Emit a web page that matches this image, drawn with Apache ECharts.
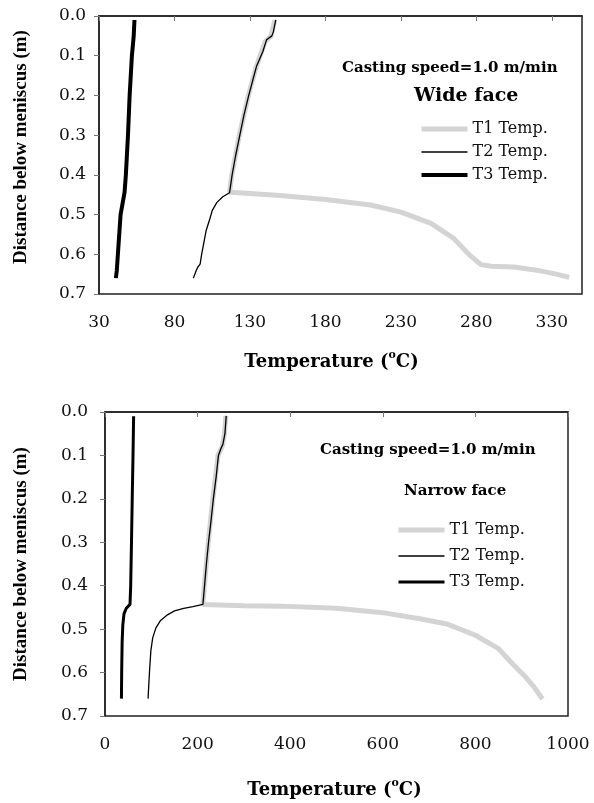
<!DOCTYPE html>
<html>
<head>
<meta charset="utf-8">
<script src="https://cdn.jsdelivr.net/npm/echarts@6/dist/echarts.min.js"></script>
<style>
  html, body { margin: 0; padding: 0; background: #fff; }
  #main { width: 594px; height: 803px; }
</style>
</head>
<body>
<div id="main"></div>
<script>
// tick labels
const depthTicks = [0.0, 0.1, 0.2, 0.3, 0.4, 0.5, 0.6, 0.7];
const wideTempTicks = [30, 80, 130, 180, 230, 280, 330];
const wideTempMax = 350;
const narrowTempTicks = [0, 200, 400, 600, 800, 1000];

const seriesNames = ['T1 Temp.', 'T2 Temp.', 'T3 Temp.'];

// wide face (top chart)
const wideT1Temp = [146.5, 144, 140, 134, 129, 123, 118, 116.5, 130, 150, 180, 210, 230, 250, 265, 275, 283, 290, 305, 320, 333, 341.5];
const wideT1Depth = [0.01, 0.05, 0.065, 0.13, 0.2, 0.3, 0.4, 0.444, 0.447, 0.452, 0.462, 0.476, 0.494, 0.522, 0.56, 0.6, 0.626, 0.63, 0.632, 0.64, 0.65, 0.658];
const wideT2Temp = [147.1, 145.5, 144.5, 141, 138.5, 134.5, 132, 129.2, 126, 123.3, 120.6, 118.2, 116.5, 112, 108, 105, 103.5, 101, 99.5, 98, 97, 95.5, 94.5, 92.5];
const wideT2Depth = [0.01, 0.04, 0.05, 0.06, 0.09, 0.125, 0.16, 0.2, 0.25, 0.3, 0.35, 0.4, 0.445, 0.455, 0.47, 0.49, 0.51, 0.54, 0.57, 0.6, 0.625, 0.632, 0.64, 0.66];
const wideT3Temp = [53.5, 53, 51.8, 50.3, 49.2, 47.8, 46.9, 44.3, 42.5, 41.8, 41.2];
const wideT3Depth = [0.01, 0.05, 0.1, 0.2, 0.3, 0.4, 0.445, 0.5, 0.6, 0.64, 0.66];

// narrow face (bottom chart)
const narrowT1Temp = [261, 258, 253, 244, 233, 223, 214.5, 211.5, 300, 380, 500, 600, 680, 738, 800, 850, 882, 910, 925, 945];
const narrowT1Depth = [0.009, 0.05, 0.08, 0.1, 0.2, 0.3, 0.4, 0.443, 0.446, 0.447, 0.452, 0.462, 0.476, 0.488, 0.514, 0.545, 0.582, 0.612, 0.631, 0.661];
const narrowT2Temp = [261.8, 259, 254.7, 250, 245, 240, 234, 229, 223.6, 219, 215, 211.5, 190, 170, 150, 135, 120, 110, 103, 99, 96, 93];
const narrowT2Depth = [0.009, 0.05, 0.074, 0.085, 0.1, 0.15, 0.2, 0.25, 0.3, 0.35, 0.4, 0.443, 0.448, 0.452, 0.458, 0.467, 0.48, 0.497, 0.52, 0.55, 0.6, 0.66];
const narrowT3Temp = [61.8, 60.5, 58.8, 57.2, 55.5, 54, 46, 41, 38.5, 37, 36, 35.5];
const narrowT3Depth = [0.01, 0.1, 0.2, 0.3, 0.4, 0.443, 0.452, 0.465, 0.49, 0.53, 0.6, 0.66];

function pairs(temp, depth) {
  return temp.map((t, i) => [t, depth[i]]);
}

const serif = 'DejaVu Serif';
const lineStyles = [
  { color: '#d4d4d4', width: 5 },
  { color: '#000', width: 1.3 },
  { color: '#000', width: 4 }
];

function xAxisFor(gridIndex, ticks, max) {
  return {
    type: 'value',
    gridIndex: gridIndex,
    min: ticks[0],
    max: max,
    name: 'Temperature ({sup|o}C)',
    nameLocation: 'middle',
    nameGap: gridIndex === 0 ? 56 : 62,
    nameTextStyle: {
      fontFamily: serif, fontWeight: 'bold', fontSize: 18, lineHeight: 24, color: '#000',
      padding: gridIndex === 0 ? [0, 18, 0, 0] : [0, 4, 0, 0],
      rich: {
        sup: { fontFamily: serif, fontWeight: 'bold', fontSize: 11, lineHeight: 12, color: '#000', verticalAlign: 'top' }
      }
    },
    splitLine: { show: false },
    axisLine: { show: true, lineStyle: { color: '#222', width: 1.5 } },
    axisTick: { show: true, length: 5, customValues: ticks, lineStyle: { color: '#777' } },
    axisLabel: {
      customValues: ticks, margin: 20,
      fontFamily: serif, fontSize: 17, color: '#111',
      formatter: v => String(v)
    }
  };
}

function yAxisFor(gridIndex) {
  return {
    type: 'value',
    gridIndex: gridIndex,
    inverse: true,
    min: depthTicks[0],
    max: depthTicks[depthTicks.length - 1],
    name: 'Distance below meniscus (m)',
    nameLocation: 'middle',
    nameRotate: 90,
    nameGap: gridIndex === 0 ? 68 : 74,
    nameTextStyle: {
      fontFamily: 'Liberation Serif', fontWeight: 'bold', fontSize: 19, color: '#000',
      padding: gridIndex === 0 ? [0, 0, 0, 16] : 0
    },
    splitLine: { show: false },
    axisLine: { show: true, lineStyle: { color: '#222', width: 1.5 } },
    axisTick: { show: true, length: 5, customValues: depthTicks, lineStyle: { color: '#777' } },
    axisLabel: {
      customValues: depthTicks, margin: gridIndex === 0 ? 13 : 17,
      fontFamily: serif, fontSize: 17, color: '#111',
      formatter: v => v.toFixed(1)
    }
  };
}

function lineSeries(name, idx, data, width) {
  return {
    name: name,
    type: 'line',
    xAxisIndex: idx,
    yAxisIndex: idx,
    data: data,
    symbol: 'none',
    showSymbol: false,
    silent: true,
    lineStyle: Object.assign({}, lineStyles[seriesNames.indexOf(name)], width ? { width: width } : {})
  };
}

function legendFor(left, top, gap, t3Width) {
  return {
    orient: 'vertical',
    left: left,
    top: top,
    itemWidth: 46,
    itemHeight: 12,
    itemGap: gap,
    selectedMode: false,
    padding: 0,
    textStyle: { fontFamily: serif, fontSize: 16, color: '#111' },
    data: seriesNames.map((n, i) => ({
      name: n,
      itemStyle: { opacity: 0 },
      lineStyle: i === 2 ? Object.assign({}, lineStyles[i], { width: t3Width }) : lineStyles[i]
    }))
  };
}

function note(text, left, top, size) {
  return {
    text: text, left: left, top: top, padding: 0,
    textStyle: { fontFamily: serif, fontWeight: 'bold', fontSize: size, color: '#000' }
  };
}

const chart = echarts.init(document.getElementById('main'));
chart.setOption({
  backgroundColor: '#fff',
  animation: false,
  title: [
    note('Casting speed=1.0 m/min', 342, 61, 15),
    note('Wide face', 414, 87, 19),
    note('Casting speed=1.0 m/min', 320, 443, 15),
    note('Narrow face', 404, 484, 15)
  ],
  legend: [
    legendFor(419, 121, 7, 4),
    legendFor(396, 522, 10, 3)
  ],
  grid: [
    { left: 99, top: 16, width: 483, height: 278, show: true, borderColor: '#222', borderWidth: 1.5, backgroundColor: 'transparent' },
    { left: 105, top: 412, width: 463, height: 310, show: true, borderColor: '#222', borderWidth: 1.5, backgroundColor: 'transparent' }
  ],
  xAxis: [
    xAxisFor(0, wideTempTicks, wideTempMax),
    xAxisFor(1, narrowTempTicks, narrowTempTicks[narrowTempTicks.length - 1])
  ],
  yAxis: [yAxisFor(0), yAxisFor(1)],
  series: [
    lineSeries('T1 Temp.', 0, pairs(wideT1Temp, wideT1Depth)),
    lineSeries('T2 Temp.', 0, pairs(wideT2Temp, wideT2Depth)),
    lineSeries('T3 Temp.', 0, pairs(wideT3Temp, wideT3Depth)),
    lineSeries('T1 Temp.', 1, pairs(narrowT1Temp, narrowT1Depth)),
    lineSeries('T2 Temp.', 1, pairs(narrowT2Temp, narrowT2Depth)),
    lineSeries('T3 Temp.', 1, pairs(narrowT3Temp, narrowT3Depth), 3)
  ]
});
</script>
</body>
</html>
